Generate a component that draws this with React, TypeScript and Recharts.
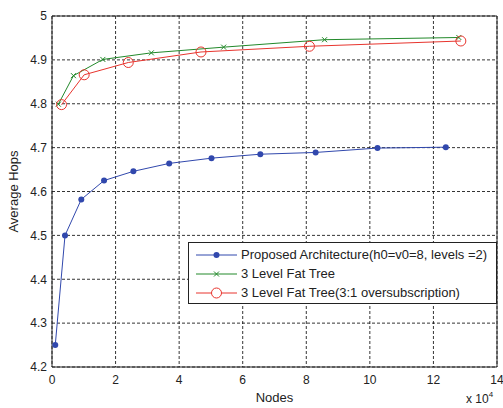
import { CartesianGrid, Label, Line, LineChart, ReferenceLine, XAxis, YAxis } from "recharts";

const proposedNodes = [1024, 4096, 9216, 16384, 25600, 36864, 50176, 65536, 82944, 102400, 123904];
const proposedHops = [4.25, 4.5, 4.582, 4.625, 4.646, 4.664, 4.676, 4.685, 4.689, 4.699, 4.701];

const fatTreeNodes = [2000, 6750, 16000, 31250, 54000, 85750, 128000];
const fatTreeHops = [4.799, 4.864, 4.901, 4.916, 4.929, 4.946, 4.951];

const oversubNodes = [3000, 10125, 24000, 46875, 81000, 128625];
const oversubHops = [4.798, 4.866, 4.894, 4.918, 4.931, 4.943];

const xTicks = [0, 20000, 40000, 60000, 80000, 100000, 120000, 140000];
const yTicks = [4.2, 4.3, 4.4, 4.5, 4.6, 4.7, 4.8, 4.9, 5];

const BLUE = "#3148ad";
const GREEN = "#22892a";
const RED = "#e8352e";
const FONT = "'Liberation Sans', Arial, Helvetica, sans-serif";

const toPoints = (xs: number[], ys: number[]) => xs.map((x, i) => ({ x, y: ys[i] }));

const proposed = toPoints(proposedNodes, proposedHops);
const fatTree = toPoints(fatTreeNodes, fatTreeHops);
const oversub = toPoints(oversubNodes, oversubHops);

function CrossDot(props: any) {
  const { cx, cy, key } = props;
  if (cx == null || cy == null) return null;
  const s = 2.5;
  return (
    <path
      key={key}
      d={`M${cx - s},${cy - s}L${cx + s},${cy + s}M${cx - s},${cy + s}L${cx + s},${cy - s}`}
      stroke={GREEN}
      strokeWidth={1}
      fill="none"
    />
  );
}

const legendItems = [
  { label: "Proposed Architecture(h0=v0=8, levels =2)", color: BLUE, marker: "dot" },
  { label: "3 Level Fat Tree", color: GREEN, marker: "cross" },
  { label: "3 Level Fat Tree(3:1 oversubscription)", color: RED, marker: "circle" },
];

function LegendMarker({ color, marker }: { color: string; marker: string }) {
  return (
    <svg width={41} height={12} style={{ display: "block", flexShrink: 0 }}>
      <line x1={0} y1={6} x2={41} y2={6} stroke={color} strokeWidth={1} />
      {marker === "dot" && <circle cx={20.5} cy={6} r={3} fill={color} />}
      {marker === "cross" && (
        <path d="M18,3.5L23,8.5M18,8.5L23,3.5" stroke={color} strokeWidth={1} fill="none" />
      )}
      {marker === "circle" && <circle cx={20.5} cy={6} r={5} fill="white" stroke={color} strokeWidth={1} />}
    </svg>
  );
}

export default function App() {
  return (
    <div style={{ position: "absolute", left: 0, top: 0, width: 503, height: 408, background: "#fff", fontFamily: FONT }}>
      <LineChart width={503} height={408} margin={{ top: 16, right: 6, left: 0, bottom: 0 }}>
        <CartesianGrid stroke="#000" strokeDasharray="3 2" strokeWidth={0.8} />
        <XAxis
          type="number"
          dataKey="x"
          domain={[0, 140000]}
          ticks={xTicks}
          tickFormatter={(v) => String(v / 10000)}
          height={41}
          tickLine={false}
          axisLine={{ stroke: "#222" }}
          tick={{ fontSize: 12, fill: "#222", fontFamily: FONT }}
          allowDataOverflow
        >
          <Label value="Nodes" position="insideBottom" offset={6} style={{ fontSize: 13, fill: "#222", fontFamily: FONT }} />
        </XAxis>
        <YAxis
          type="number"
          domain={[4.2, 5]}
          ticks={yTicks}
          tickFormatter={(v) => Number(v.toFixed(1)).toString()}
          width={52}
          tickLine={false}
          tickSize={4}
          tickMargin={1}
          axisLine={{ stroke: "#222" }}
          tick={{ fontSize: 12, fill: "#222", fontFamily: FONT }}
          allowDataOverflow
        >
          <Label
            value="Average Hops"
            angle={-90}
            position="insideLeft"
            offset={13}
            style={{ fontSize: 13, fill: "#222", fontFamily: FONT, textAnchor: "middle" }}
          />
        </YAxis>
        <ReferenceLine y={5} stroke="#222" />
        <ReferenceLine x={140000} stroke="#222" />
        <Line
          data={proposed}
          dataKey="y"
          stroke={BLUE}
          strokeWidth={1}
          dot={{ r: 3, fill: BLUE, stroke: BLUE, strokeWidth: 0 }}
          isAnimationActive={false}
        />
        <Line
          data={fatTree}
          dataKey="y"
          stroke={GREEN}
          strokeWidth={1}
          dot={<CrossDot />}
          isAnimationActive={false}
        />
        <Line
          data={oversub}
          dataKey="y"
          stroke={RED}
          strokeWidth={1}
          dot={{ r: 5, fill: "none", stroke: RED, strokeWidth: 1 }}
          isAnimationActive={false}
        />
      </LineChart>

      <div
        style={{
          position: "absolute",
          left: 188,
          top: 242,
          width: 309,
          height: 62,
          border: "1px solid #222",
          background: "#fff",
          boxSizing: "border-box",
          paddingTop: 2,
        }}
      >
        {legendItems.map((item) => (
          <div key={item.label} style={{ display: "flex", alignItems: "center", height: 19, paddingLeft: 7 }}>
            <LegendMarker color={item.color} marker={item.marker} />
            <span style={{ marginLeft: 4, fontSize: 13, color: "#222", whiteSpace: "nowrap" }}>{item.label}</span>
          </div>
        ))}
      </div>

      <div style={{ position: "absolute", left: 466, top: 392, fontSize: 12, color: "#222" }}>
        x 10<span style={{ position: "relative", top: -6, fontSize: 8 }}>4</span>
      </div>
    </div>
  );
}
